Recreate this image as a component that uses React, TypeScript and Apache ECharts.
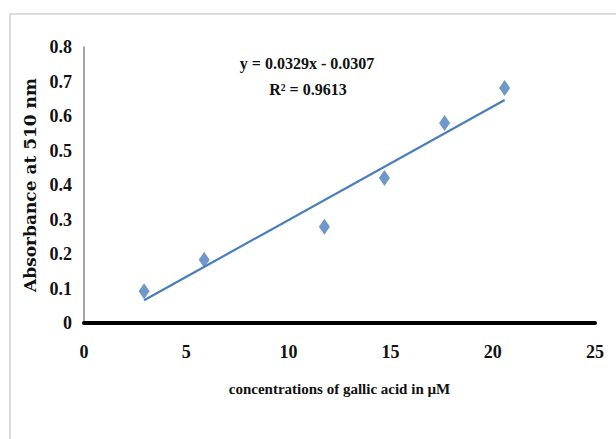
import React, { useEffect, useRef } from "react";
import * as echarts from "echarts";

// Gallic acid standard curve: concentration (µM) vs absorbance at 510 nm
const concentrations = [2.94, 5.88, 11.76, 14.7, 17.64, 20.58];
const absorbance = [0.092, 0.183, 0.279, 0.42, 0.58, 0.681];

// Linear trendline reported with the curve
const slope = 0.0329;
const intercept = -0.0307;
const rSquared = 0.9613;

const xTicks = [0, 5, 10, 15, 20, 25];
const yTicks = [0, 0.1, 0.2, 0.3, 0.4, 0.5, 0.6, 0.7, 0.8];

const BLUE = "#4A7EBB";
const FONT = "Liberation Serif";

export default function App() {
  const ref = useRef<HTMLDivElement>(null);

  useEffect(() => {
    if (!ref.current) return;
    const chart = echarts.init(ref.current, undefined, { renderer: "svg" });

    const xMin = Math.min(...concentrations);
    const xMax = Math.max(...concentrations);
    const trend = [
      [xMin, slope * xMin + intercept],
      [xMax, slope * xMax + intercept],
    ];

    const equation = `y = ${slope}x - ${Math.abs(intercept)}`;
    const r2 = `R² = ${rSquared}`;

    chart.setOption({
      animation: false,
      backgroundColor: "#ffffff",
      textStyle: { fontFamily: FONT },
      grid: { left: 84, right: 21, top: 47, bottom: 116 },
      xAxis: {
        type: "value",
        min: xTicks[0],
        max: xTicks[xTicks.length - 1],
        interval: 5,
        name: "concentrations of gallic acid in µM",
        nameLocation: "middle",
        nameGap: 58,
        nameTextStyle: { fontFamily: FONT, fontWeight: "bold", fontSize: 15, color: "#111" },
        axisLine: { onZero: false, lineStyle: { color: "#000", width: 4 } },
        axisTick: { show: false },
        splitLine: { show: false },
        axisLabel: {
          margin: 20,
          fontFamily: FONT,
          fontWeight: "bold",
          fontSize: 18,
          color: "#111",
        },
      },
      yAxis: {
        type: "value",
        min: yTicks[0],
        max: yTicks[yTicks.length - 1],
        interval: 0.1,
        name: "Absorbance at 510 nm",
        nameLocation: "middle",
        nameGap: 36,
        nameTextStyle: { fontFamily: "DejaVu Serif", fontWeight: "bold", fontSize: 17, color: "#111" },
        axisLine: { show: true, lineStyle: { color: "#8a8a8a", width: 1.5 } },
        axisTick: { show: false },
        splitLine: { show: false },
        axisLabel: {
          margin: 12,
          fontFamily: FONT,
          fontWeight: "bold",
          fontSize: 18,
          color: "#111",
          formatter: (v: number) => (v === 0 ? "0" : v.toFixed(1)),
        },
      },
      series: [
        {
          type: "line",
          data: trend,
          showSymbol: false,
          symbol: "none",
          lineStyle: { color: BLUE, width: 2.2 },
          z: 2,
        },
        {
          type: "scatter",
          data: concentrations.map((c, i) => [c, absorbance[i]]),
          symbol: "diamond",
          symbolSize: [11, 16],
          itemStyle: { color: BLUE },
          z: 3,
        },
      ],
      graphic: [
        {
          type: "line",
          shape: { x1: 9, y1: 14, x2: 616, y2: 14 },
          style: { stroke: "#dcdcdc", lineWidth: 2 },
        },
        {
          type: "line",
          shape: { x1: 10, y1: 14, x2: 10, y2: 439 },
          style: { stroke: "#dcdcdc", lineWidth: 2 },
        },
        {
          type: "text",
          x: 307,
          y: 63,
          style: {
            text: equation,
            fontFamily: FONT,
            fontWeight: "bold",
            fontSize: 16,
            fill: "#111",
            align: "center",
            verticalAlign: "middle",
          },
        },
        {
          type: "text",
          x: 308,
          y: 89,
          style: {
            text: r2,
            fontFamily: FONT,
            fontWeight: "bold",
            fontSize: 16,
            fill: "#111",
            align: "center",
            verticalAlign: "middle",
          },
        },
      ],
    });

    return () => chart.dispose();
  }, []);

  return (
    <div
      ref={ref}
      style={{ position: "fixed", left: 0, top: 0, width: 616, height: 439 }}
    />
  );
}
